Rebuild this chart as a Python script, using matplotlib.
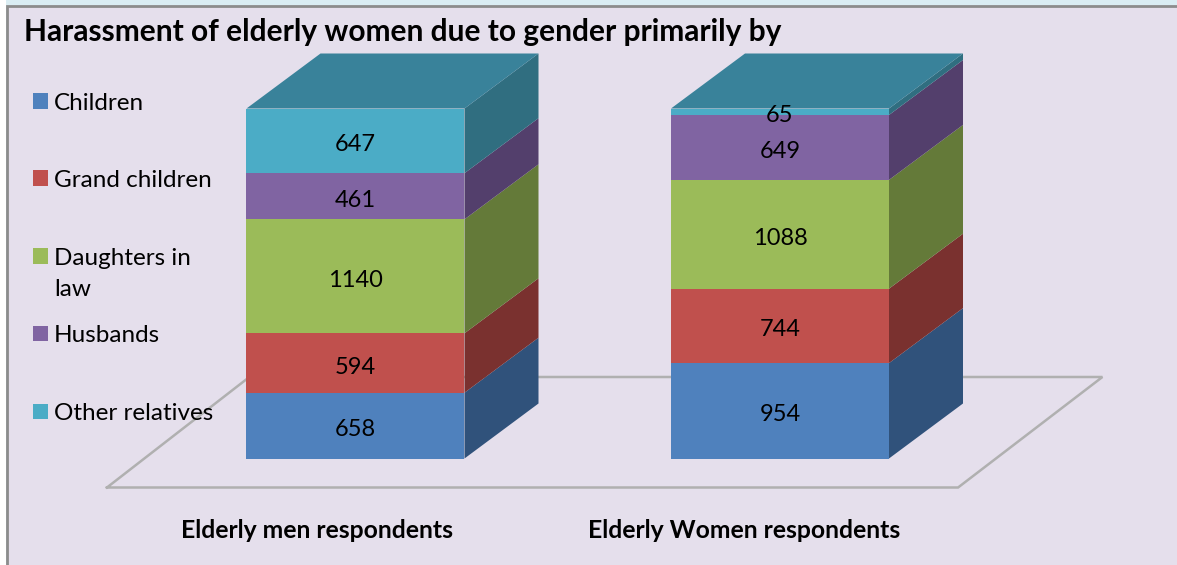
import numpy as np
import matplotlib.pyplot as plt
from matplotlib.patches import Rectangle

plt.rcParams['font.family'] = ['Lato', 'DejaVu Sans']

fig_w = 1177
fig_h = 565

title = "Harassment of elderly women due to gender primarily by"
groups = ["Elderly men respondents", "Elderly Women respondents"]
series_names = ["Children", "Grand children", "Daughters in\nlaw", "Husbands", "Other relatives"]

children = [658, 954]
grand_children = [594, 744]
daughters_in_law = [1140, 1088]
husbands = [461, 649]
other_relatives = [647, 65]

front_colors = ["#4F81BD", "#C0504D", "#9BBB59", "#8064A2", "#4BACC6"]
side_colors = ["#30527B", "#7A312F", "#647A39", "#533F6C", "#306E80"]
top_color = "#39829A"

# pixels per unit on each axis, zero of the value axis sits at y=458
px_per_group = 424.5
px_per_value = 0.1
x0_px = 355.5
y0_px = 458.5

bar_width = 218 / px_per_group
depth_x = 74 / px_per_group
depth_y = 55 / px_per_value


def figx(px):
    return px / fig_w


def figy(py):
    return 1 - py / fig_h


fig = plt.figure(figsize=(fig_w / 100, fig_h / 100), dpi=100, facecolor="#DAEDF3")
# background panel, runs off the right and bottom edge like the reference
fig.add_artist(Rectangle((0, 0), figx(6), 1, transform=fig.transFigure, color="white", lw=0, zorder=-2))
fig.add_artist(Rectangle((figx(6.5), -0.05), 1.1, figy(5.5) + 0.05, transform=fig.transFigure,
                         facecolor="#E5DFEC", edgecolor="#8C8C8C", lw=2, zorder=-1))

ax = fig.add_axes([0, 0, 1, 1])
ax.set_xlim(-x0_px / px_per_group, (fig_w - x0_px) / px_per_group)
ax.set_ylim((y0_px - fig_h) / px_per_value, y0_px / px_per_value)
ax.axis("off")
ax.patch.set_alpha(0)

# floor of the 3d chart
floor_x = [-0.5855, 1.4195, 1.7595, -0.2500, -0.5855]
floor_y = [-290, -290, 815, 815, -290]
ax.plot(floor_x, floor_y, color="#B0B0B0", lw=1.8, zorder=1, solid_joinstyle="miter")

all_series = [children, grand_children, daughters_in_law, husbands, other_relatives]
for g in range(len(groups)):
    left = g - bar_width / 2
    right = left + bar_width
    bottom = 0
    for s, vals in enumerate(all_series):
        top = bottom + vals[g]
        ax.fill([left, right, right, left], [bottom, bottom, top, top],
                color=front_colors[s], lw=0, zorder=3)
        ax.fill([right, right + depth_x, right + depth_x, right],
                [bottom, bottom + depth_y, top + depth_y, top],
                color=side_colors[s], lw=0, zorder=2)
        ax.text((left + right) / 2, (bottom + top) / 2 - 40, str(vals[g]),
                ha="center", va="center", fontsize=17, color="black", zorder=5)
        bottom = top
    ax.fill([left, right, right + depth_x, left + depth_x],
            [bottom, bottom, bottom + depth_y, bottom + depth_y],
            color=top_color, lw=0, zorder=2)

fig.text(figx(24), figy(32), title, fontsize=21.5, fontweight="bold", color="black",
         ha="left", va="center")

legend_y = [103, 180, 274, 335, 413]
for name, col, ly in zip(series_names, front_colors, legend_y):
    box_y = 256 if "\n" in name else ly - 2
    ax.add_artist(Rectangle((figx(33), figy(box_y + 7.5)), 15 / fig_w, 15 / fig_h,
                            transform=fig.transFigure, color=col, lw=0, zorder=6))
    ax.text(figx(54), figy(ly), name, fontsize=17.5, color="black", ha="left", va="center",
            linespacing=1.62, transform=fig.transFigure, zorder=6)

for name, cx in zip(groups, [317, 744]):
    fig.text(figx(cx), figy(530), name, fontsize=17.8, fontweight="bold", color="black",
             ha="center", va="center")

fig.savefig("out.png", dpi=100, facecolor=fig.get_facecolor())
